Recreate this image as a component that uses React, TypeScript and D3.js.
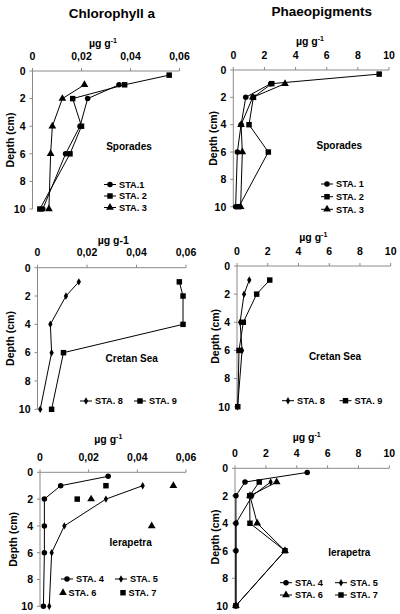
import React from "react";
import * as d3 from "d3";

// ---------- DATA ----------
const depthsFull = [0.3, 1, 2, 4, 6, 10];
const depthsStd = [1, 2, 4, 6, 10];

const chlXTicks = [0, 0.02, 0.04, 0.06];
const phaXTicks = [0, 2, 4, 6, 8, 10];
const depthTicks = [0, 2, 4, 6, 8, 10];

// Chlorophyll a – Sporades
const chlSpoSTA1 = [0.0353, 0.0225, 0.0194, 0.0135, 0.0042];
const chlSpoSTA2 = [0.0558, 0.0376, 0.0164, 0.02, 0.0153, 0.003];
const chlSpoSTA3 = [0.0212, 0.0122, 0.0081, 0.0074, 0.0067];
// Phaeopigments – Sporades
const phaSpoSTA1 = [2.4, 0.8, 0.5, 0.26, 0.15];
const phaSpoSTA2 = [9.37, 2.47, 1.29, 1.01, 2.25, 0.36];
const phaSpoSTA3 = [3.32, 1.25, 0.5, 0.58, 0.47];
// Chlorophyll a – Cretan Sea
const chlCreSTA8 = [0.0167, 0.0115, 0.0052, 0.0057, 0.0011];
const chlCreSTA9 = [0.0573, 0.0588, 0.0588, 0.0105, 0.0057];
// Phaeopigments – Cretan Sea
const phaCreSTA8 = [0.8, 0.46, 0.2, 0.33, 0.04];
const phaCreSTA9 = [2.13, 1.28, 0.41, 0.13, 0.05];
// Chlorophyll a – Ierapetra
const chlIerSTA4 = [0.028, 0.0085, 0.0018, 0.0018, 0.0018, 0.0014];
const chlIerSTA5 = [0.0422, 0.0271, 0.01, 0.0048, 0.0038];
const depthsIerSTA6 = [1, 2, 4];
const chlIerSTA6 = [0.0548, 0.021, 0.0459];
const depthsIerSTA7 = [1, 2];
const chlIerSTA7 = [0.0271, 0.0153];
// Phaeopigments – Ierapetra
const phaIerSTA4 = [4.68, 0.65, 0.06, 0.06, 0.06, 0.06];
const phaIerSTA5 = [2.31, 1.12, 0.06, 0.06, 0.06];
const phaIerSTA6 = [2.7, 0.97, 1.44, 3.24, 0.06];
const phaIerSTA7 = [1.57, 0.95, 0.97, 3.24, 0.06];

type Shape = "circle" | "square" | "triangle" | "diamond";
interface Series {
  name: string;
  depths: number[];
  values: number[];
  shape: Shape;
  line: boolean;
}

const mk = (name: string, depths: number[], values: number[], shape: Shape, line = true): Series => ({
  name, depths, values, shape, line,
});

// ---------- LAYOUT ----------
interface LegendItem { series: Series; x: number; y: number }
interface PanelCfg {
  x0: number; x1: number; y0: number; y1: number;
  xMax: number; xTicks: number[]; chl: boolean;
  title?: { text: string; x: number; y: number };
  unit: { x: number; y: number; sup: boolean };
  depthX: number;
  site: { text: string; x: number; y: number };
  series: Series[];
  legend: LegendItem[];
}

const S1 = mk("STA.1", depthsStd, chlSpoSTA1, "circle");
const S2 = mk("STA. 2", depthsFull, chlSpoSTA2, "square");
const S3 = mk("STA. 3", depthsStd, chlSpoSTA3, "triangle");
const P1 = mk("STA. 1", depthsStd, phaSpoSTA1, "circle");
const P2 = mk("STA. 2", depthsFull, phaSpoSTA2, "square");
const P3 = mk("STA. 3", depthsStd, phaSpoSTA3, "triangle");
const C8 = mk("STA. 8", depthsStd, chlCreSTA8, "diamond");
const C9 = mk("STA. 9", depthsStd, chlCreSTA9, "square");
const Q8 = mk("STA. 8", depthsStd, phaCreSTA8, "diamond");
const Q9 = mk("STA. 9", depthsStd, phaCreSTA9, "square");
const I4 = mk("STA. 4", depthsFull, chlIerSTA4, "circle");
const I5 = mk("STA. 5", depthsStd, chlIerSTA5, "diamond");
const I6 = mk("STA. 6", depthsIerSTA6, chlIerSTA6, "triangle", false);
const I7 = mk("STA. 7", depthsIerSTA7, chlIerSTA7, "square", false);
const J4 = mk("STA. 4", depthsFull, phaIerSTA4, "circle");
const J5 = mk("STA. 5", depthsStd, phaIerSTA5, "diamond");
const J6 = mk("STA. 6", depthsStd, phaIerSTA6, "triangle");
const J7 = mk("STA. 7", depthsStd, phaIerSTA7, "square");

const panels: PanelCfg[] = [
  {
    x0: 32.5, x1: 179.5, y0: 71, y1: 209, xMax: 0.06, xTicks: chlXTicks, chl: true,
    title: { text: "Chlorophyll a", x: 112, y: 17.5 },
    unit: { x: 103, y: 46.5, sup: true }, depthX: 10,
    site: { text: "Sporades", x: 129, y: 149.5 },
    series: [S1, S2, S3],
    legend: [
      { series: S1, x: 104, y: 184.5 },
      { series: S2, x: 104, y: 196 },
      { series: S3, x: 104, y: 207.5 },
    ],
  },
  {
    x0: 233.3, x1: 389, y0: 70, y1: 206.7, xMax: 10, xTicks: phaXTicks, chl: false,
    title: { text: "Phaeopigments", x: 321.7, y: 16 },
    unit: { x: 310, y: 45, sup: true }, depthX: 213,
    site: { text: "Sporades", x: 339.3, y: 149.2 },
    series: [P1, P2, P3],
    legend: [
      { series: P1, x: 321, y: 184 },
      { series: P2, x: 321, y: 196.7 },
      { series: P3, x: 321, y: 209.3 },
    ],
  },
  {
    x0: 37.5, x1: 186, y0: 267.7, y1: 409.3, xMax: 0.06, xTicks: chlXTicks, chl: true,
    unit: { x: 113.3, y: 243.5, sup: false }, depthX: 10,
    site: { text: "Cretan Sea", x: 131.7, y: 361.8 },
    series: [C8, C9],
    legend: [
      { series: C8, x: 80, y: 401 },
      { series: C9, x: 134, y: 401 },
    ],
  },
  {
    x0: 237, x1: 390.7, y0: 266, y1: 406.7, xMax: 10, xTicks: phaXTicks, chl: false,
    unit: { x: 313.3, y: 241, sup: true }, depthX: 215,
    site: { text: "Cretan Sea", x: 335, y: 360.2 },
    series: [Q8, Q9],
    legend: [
      { series: Q8, x: 282, y: 400.7 },
      { series: Q9, x: 339.5, y: 400.7 },
    ],
  },
  {
    x0: 40, x1: 186, y0: 472.3, y1: 606.3, xMax: 0.06, xTicks: chlXTicks, chl: true,
    unit: { x: 108.3, y: 443, sup: true }, depthX: 13,
    site: { text: "Ierapetra", x: 130.7, y: 546.2 },
    series: [I4, I5, I6, I7],
    legend: [
      { series: I4, x: 61, y: 579 },
      { series: I5, x: 115, y: 579 },
      { series: I6, x: 57, y: 592.7 },
      { series: I7, x: 117, y: 592.7 },
    ],
  },
  {
    x0: 235, x1: 389.3, y0: 468.3, y1: 605.7, xMax: 10, xTicks: phaXTicks, chl: false,
    unit: { x: 306.7, y: 441, sup: true }, depthX: 215,
    site: { text: "Ierapetra", x: 349.3, y: 555.8 },
    series: [J4, J5, J6, J7],
    legend: [
      { series: J4, x: 280, y: 582.7 },
      { series: J5, x: 335, y: 582.7 },
      { series: J6, x: 280, y: 595 },
      { series: J7, x: 335, y: 595 },
    ],
  },
];

const FONT = "'Liberation Sans', Arial, Helvetica, sans-serif";
const AXIS = "#8a8a8a";

const symbolFor: Record<Shape, d3.SymbolType> = {
  circle: d3.symbolCircle,
  square: d3.symbolSquare,
  triangle: d3.symbolTriangle,
  diamond: d3.symbolDiamond,
};
const sizeFor: Record<Shape, number> = { circle: 24, square: 30, triangle: 26, diamond: 16 };

function Marker({ shape, x, y }: { shape: Shape; x: number; y: number }) {
  const d = d3.symbol().type(symbolFor[shape]).size(sizeFor[shape])() || "";
  return <path d={d} transform={`translate(${x},${y})`} fill="#000" />;
}

const fmtChl = (v: number) => (v === 0 ? "0" : d3.format(".2f")(v).replace(".", ","));
const fmtPha = (v: number) => String(v);

function Panel({ cfg }: { cfg: PanelCfg }) {
  const x = d3.scaleLinear().domain([0, cfg.xMax]).range([cfg.x0, cfg.x1]);
  const y = d3.scaleLinear().domain([0, 10]).range([cfg.y0, cfg.y1]);
  const line = d3
    .line<[number, number]>()
    .x((d) => x(d[1]))
    .y((d) => y(d[0]));
  const fmt = cfg.chl ? fmtChl : fmtPha;
  const midY = (cfg.y0 + cfg.y1) / 2;
  return (
    <g>
      {cfg.title && (
        <text x={cfg.title.x} y={cfg.title.y} textAnchor="middle" fontSize={13.5} fontWeight="bold">
          {cfg.title.text}
        </text>
      )}
      <text x={cfg.unit.x} y={cfg.unit.y} textAnchor="middle" fontSize={10.5} fontWeight="bold">
        {cfg.unit.sup ? (
          <>
            {"µg g"}
            <tspan fontSize={7} dy={-4}>-1</tspan>
          </>
        ) : (
          "µg g-1"
        )}
      </text>
      {/* x axis (top) */}
      <line x1={cfg.x0} x2={cfg.x1} y1={cfg.y0} y2={cfg.y0} stroke={AXIS} strokeWidth={1} />
      {cfg.xTicks.map((t) => (
        <g key={t}>
          <line x1={x(t)} x2={x(t)} y1={cfg.y0} y2={cfg.y0 - 3} stroke={AXIS} />
          <text x={x(t)} y={cfg.y0 - 11.3} textAnchor="middle" fontSize={10.5} fontWeight="bold">
            {fmt(t)}
          </text>
        </g>
      ))}
      {/* y axis */}
      <line x1={cfg.x0} x2={cfg.x0} y1={cfg.y0} y2={cfg.y1} stroke={AXIS} strokeWidth={1} />
      {depthTicks.map((t) => (
        <g key={t}>
          <line x1={cfg.x0 - 3} x2={cfg.x0} y1={y(t)} y2={y(t)} stroke={AXIS} />
          <text x={cfg.x0 - 7} y={y(t) + 3.8} textAnchor="end" fontSize={10.5} fontWeight="bold">
            {t}
          </text>
        </g>
      ))}
      <text
        transform={`translate(${cfg.depthX + 3.8},${midY}) rotate(-90)`}
        textAnchor="middle"
        fontSize={10.5}
        fontWeight="bold"
      >
        Depth (cm)
      </text>
      <text x={cfg.site.x} y={cfg.site.y} textAnchor="middle" fontSize={10} fontWeight="bold">
        {cfg.site.text}
      </text>
      {/* series */}
      {cfg.series.map((s, i) => {
        const pts = s.depths.map((d, j) => [d, s.values[j]] as [number, number]);
        return (
          <g key={i}>
            {s.line && <path d={line(pts) || ""} fill="none" stroke="#000" strokeWidth={1} />}
            {pts.map((p, j) => (
              <Marker key={j} shape={s.shape} x={x(p[1])} y={y(p[0])} />
            ))}
          </g>
        );
      })}
      {/* legend */}
      {cfg.legend.map((l, i) => (
        <g key={i}>
          {l.series.line ? (
            <>
              <line x1={l.x} x2={l.x + 12} y1={l.y} y2={l.y} stroke="#000" />
              <Marker shape={l.series.shape} x={l.x + 6} y={l.y} />
              <text x={l.x + 15} y={l.y + 3.3} fontSize={9.2} fontWeight="bold">
                {l.series.name}
              </text>
            </>
          ) : (
            <>
              <Marker shape={l.series.shape} x={l.x + 6} y={l.y} />
              <text x={l.x + 11.5} y={l.y + 3.3} fontSize={9.2} fontWeight="bold">
                {l.series.name}
              </text>
            </>
          )}
        </g>
      ))}
    </g>
  );
}

export default function App() {
  return (
    <svg
      width={400}
      height={614}
      style={{ position: "absolute", left: 0, top: 0, background: "#fff" }}
      fontFamily={FONT}
    >
      <rect width={400} height={614} fill="#fff" />
      {panels.map((p, i) => (
        <Panel key={i} cfg={p} />
      ))}
    </svg>
  );
}
